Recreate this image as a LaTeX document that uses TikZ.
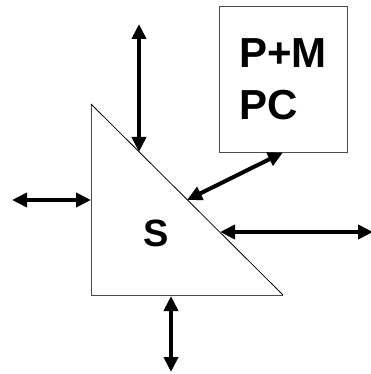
\documentclass[tikz,border=0pt]{standalone}
\usepackage{fontspec}
\setmainfont{Liberation Sans}
\usetikzlibrary{arrows.meta}

\begin{document}
\begin{tikzpicture}[x=1pt, y=-1pt,
  link/.style={line width=4pt, {Triangle[length=15pt,width=14pt]}-{Triangle[length=15pt,width=14pt]}},
  outline/.style={draw=black!70, line width=1pt}]
  \useasboundingbox (0,0) rectangle (370,374);

  % the triangle
  \coordinate (t) at (91,104);
  \coordinate (bl) at (91,295);
  \coordinate (br) at (283,295);
  \draw[outline] (t) -- (bl) -- (br);
  \draw[line width=0.8pt] (br) -- (t);
  \node[font=\fontsize{38}{44}\selectfont\bfseries] (s) at (156,233) {S};

  % the box
  \node[outline, minimum width=128, minimum height=145, align=left,
        font=\fontsize{42}{52}\selectfont\bfseries] (pc) at (283,79.5) {P+M\\PC};

  % points on the triangle
  \coordinate (hypa) at (139,152);
  \coordinate (hypb) at (187,200);
  \coordinate (hypc) at (220,232);
  \coordinate (left) at (91,200);
  \coordinate (bottom) at (171,296);

  % free ends
  \coordinate (ua) at (139,24);
  \coordinate (ra) at (373,232);
  \coordinate (la) at (12,200);
  \coordinate (da) at (171,372);

  \draw[link] (ua) -- (hypa);
  \draw[link] (hypb) -- (pc.south);
  \draw[link] (hypc) -- (ra);
  \draw[link] (la) -- (left);
  \draw[link] (bottom) -- (da);
\end{tikzpicture}
\end{document}
